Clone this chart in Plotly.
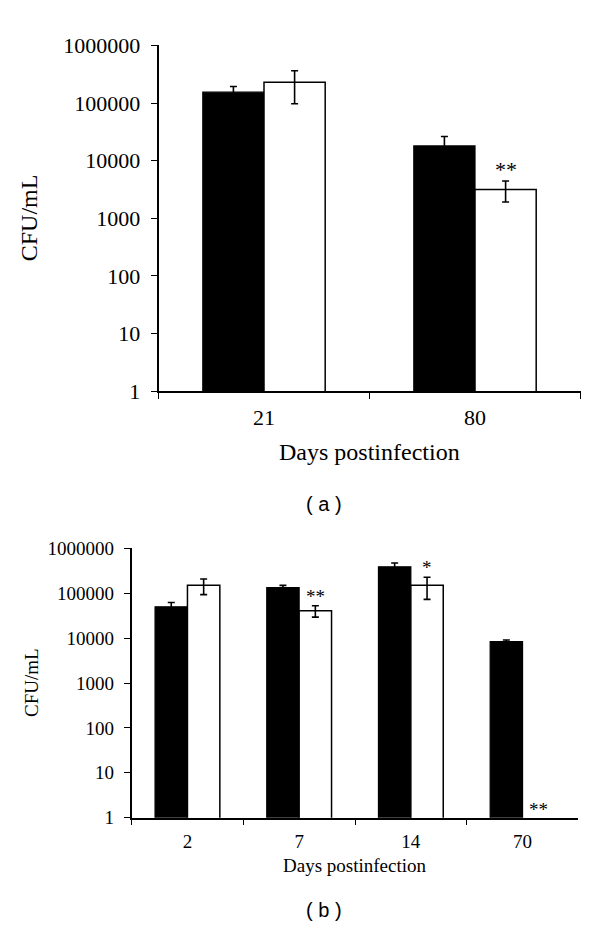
import math
import plotly.graph_objects as go

# ---------------- data ----------------
days_a = ["21", "80"]
a_black = [154000, 18000]
a_black_err = [40000, 8200]
a_white = [230000, 3170]
a_white_err = [133000, 1250]
a_sig = ["", "**"]

days_b = ["2", "7", "14", "70"]
b_black = [50000, 133000, 387000, 8400]
b_black_err = [12000, 17000, 86000, 700]
b_white = [150000, 40900, 150000, None]
b_white_err = [57000, 11600, 77000, None]
b_sig = ["", "**", "*", "**"]

y_tickvals = [1, 10, 100, 1000, 10000, 100000, 1000000]
y_ticktext = ["1", "10", "100", "1000", "10000", "100000", "1000000"]

SERIF = "Liberation Serif, Times New Roman, serif"
SANS = "Liberation Sans, Arial, sans-serif"
BARGAP = 0.42

W, H = 600, 940
def px_x(v):
    return v / W
def px_y(v):
    return 1 - v / H

fig = go.Figure()

def add_panel(cats, black, black_err, white, white_err, xa, ya):
    fig.add_trace(go.Bar(
        x=cats, y=black, xaxis=xa, yaxis=ya,
        marker=dict(color="#000000", line=dict(color="#000000", width=1.2)),
        error_y=dict(type="data", array=black_err, color="#000000",
                     thickness=1.6, width=3.5, visible=True),
        showlegend=False))
    fig.add_trace(go.Bar(
        x=cats, y=white, xaxis=xa, yaxis=ya,
        marker=dict(color="#ffffff", line=dict(color="#000000", width=1.5)),
        error_y=dict(type="data", array=white_err, color="#000000",
                     thickness=1.6, width=3.5, visible=True),
        showlegend=False))

add_panel(days_a, a_black, a_black_err, a_white, a_white_err, "x", "y")
add_panel(days_b, b_black, b_black_err, b_white, b_white_err, "x2", "y2")

# panel pixel geometry
A_X0, A_X1, A_Y0, A_Y1 = 158.5, 580.5, 34.3, 389.5
B_X0, B_X1, B_Y0, B_Y1 = 131.6, 578.4, 551.0, 827.7

def xaxis(domain, anchor, fs):
    return dict(domain=domain, anchor=anchor, type="category",
                showline=True, linecolor="#000000", linewidth=1.5,
                ticks="outside", tickson="boundaries", ticklen=6,
                tickcolor="#000000", tickwidth=1.3,
                tickfont=dict(family=SERIF, size=fs, color="#000000"),
                ticklabelstandoff=6,
                showgrid=False, zeroline=False, fixedrange=True)

def yaxis(domain, anchor, fs):
    return dict(domain=domain, anchor=anchor, type="log", range=[0, 6],
                showline=True, linecolor="#000000", linewidth=1.5,
                ticks="outside", ticklen=6, tickcolor="#000000", tickwidth=1.3,
                tickmode="array", tickvals=y_tickvals, ticktext=y_ticktext,
                tickfont=dict(family=SERIF, size=fs, color="#000000"),
                ticklabelstandoff=6,
                showgrid=False, zeroline=False, fixedrange=True)

fig.update_layout(
    width=W, height=H, autosize=False,
    margin=dict(l=0, r=0, t=0, b=0),
    paper_bgcolor="#ffffff", plot_bgcolor="#ffffff",
    barmode="group", bargap=BARGAP, bargroupgap=0,
    xaxis=xaxis([px_x(A_X0), px_x(A_X1)], "y", 22),
    yaxis=yaxis([px_y(A_Y1), px_y(A_Y0)], "x", 22),
    xaxis2=xaxis([px_x(B_X0), px_x(B_X1)], "y2", 19),
    yaxis2=yaxis([px_y(B_Y1), px_y(B_Y0)], "x2", 19),
)

ann = []
# axis titles
ann.append(dict(text="Days postinfection", xref="paper", yref="paper",
                x=px_x((A_X0 + A_X1) / 2), y=px_y(452), showarrow=False,
                xanchor="center", yanchor="middle",
                font=dict(family=SERIF, size=24, color="#000000")))
ann.append(dict(text="CFU/mL", xref="paper", yref="paper",
                x=px_x(29), y=px_y((A_Y0 + A_Y1) / 2), showarrow=False,
                textangle=-90, xanchor="center", yanchor="middle",
                font=dict(family=SERIF, size=24, color="#000000")))
ann.append(dict(text="Days postinfection", xref="paper", yref="paper",
                x=px_x((B_X0 + B_X1) / 2), y=px_y(877), showarrow=False,
                xanchor="center", yanchor="middle",
                font=dict(family=SERIF, size=19, color="#000000")))
ann.append(dict(text="CFU/mL", xref="paper", yref="paper",
                x=px_x(31), y=px_y((B_Y0 + B_Y1) / 2), showarrow=False,
                textangle=-90, xanchor="center", yanchor="middle",
                font=dict(family=SERIF, size=19, color="#000000")))
# panel labels
ann.append(dict(text="( a )", xref="paper", yref="paper", x=px_x(324), y=px_y(505),
                showarrow=False, xanchor="center", yanchor="middle",
                font=dict(family=SANS, size=20, color="#000000")))
ann.append(dict(text="( b )", xref="paper", yref="paper", x=px_x(324), y=px_y(923),
                showarrow=False, xanchor="center", yanchor="middle",
                font=dict(family=SANS, size=20, color="#000000")))

# significance stars above the white bars
offset = (1 - BARGAP) / 4
def add_stars(sig, white, white_err, xr, yr, fs):
    for i, s in enumerate(sig):
        if not s:
            continue
        if white[i] is not None:
            yv = math.log10(white[i] + white_err[i])
            ys = -3
        else:
            yv = 0
            ys = -4
        ann.append(dict(text=s, xref=xr, yref=yr, x=i + offset, y=yv,
                        showarrow=False, xanchor="center", yanchor="bottom",
                        yshift=ys,
                        font=dict(family=SERIF, size=fs, color="#000000")))

add_stars(a_sig, a_white, a_white_err, "x", "y", 22)
add_stars(b_sig, b_white, b_white_err, "x2", "y2", 19)

fig.update_layout(annotations=ann)

fig.write_html("out.html", config={"displayModeBar": False},
               post_script="document.body.style.margin='0';")
